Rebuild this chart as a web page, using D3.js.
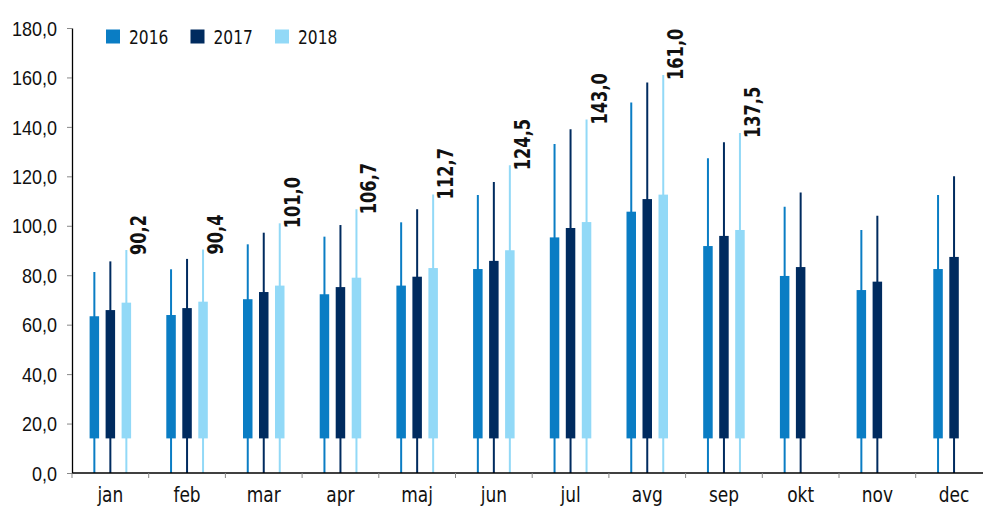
<!DOCTYPE html>
<html>
<head>
<meta charset="utf-8">
<script src="https://cdn.jsdelivr.net/npm/d3@7"></script>
<style>
    body { margin: 0; background: #fff; }
    svg { display: block; font-family: "Liberation Sans Narrow", "DejaVu Sans Condensed", "Arial Narrow", sans-serif; }
    .axis text { font-size: 20px; fill: #111; }
    .val-label { font-size: 22px; font-weight: bold; fill: #111; }
</style>
</head>
<body>
<div id="chart"></div>
<script>
// months and years
const months = ["jan", "feb", "mar", "apr", "maj", "jun", "jul", "avg", "sep", "okt", "nov", "dec"];
const years = ["2016", "2017", "2018"];
const yTicks = [0, 20, 40, 60, 80, 100, 120, 140, 160, 180];

// bottom of the boxes (same for all)
const boxLow = 14;

// top of the thick box per year
const box2016 = [63.4, 63.9, 70.3, 72.3, 75.8, 82.5, 95.3, 105.7, 91.8, 79.7, 74.0, 82.5];
const box2017 = [65.9, 66.7, 73.2, 75.2, 79.4, 85.8, 99.1, 110.8, 95.9, 83.3, 77.4, 87.4];
const box2018 = [68.9, 69.3, 75.8, 79.0, 82.9, 90.1, 101.5, 112.6, 98.3, null, null, null];

// top of the thin line per year
const max2016 = [81.3, 82.4, 92.5, 95.6, 101.4, 112.5, 133.1, 149.9, 127.3, 107.7, 98.3, 112.5];
const max2017 = [85.6, 86.6, 97.2, 100.3, 106.7, 117.7, 139.0, 158.0, 133.8, 113.5, 104.1, 120.0];
const max2018 = [90.2, 90.4, 101.0, 106.7, 112.7, 124.5, 143.0, 161.0, 137.5, null, null, null];

const colors = ["#0a7dc4", "#002b5f", "#92d9f7"];

const width = 983,
    height = 506,
    x0 = 72,
    bandW = 76.7;

// no narrow font installed, so squeeze text a bit sideways
const squeeze = 0.9;

const svg = d3.select("#chart").append("svg")
    .attr("width", width)
    .attr("height", height);

const y = d3.scaleLinear()
    .domain([0, 180])
    .range([473, 28]);

const x = d3.scaleBand()
    .domain(months)
    .range([x0, x0 + bandW * months.length]);

// offset of each year inside a month
const xs = d3.scaleBand()
    .domain(years)
    .range([-24, 24]);

const color = d3.scaleOrdinal().domain(years).range(colors);

// build rows
const boxes = [box2016, box2017, box2018];
const maxes = [max2016, max2017, max2018];
const rows = [];
years.forEach((yr, j) => {
    months.forEach((m, i) => {
        if (boxes[j][i] == null) return;
        rows.push({ month: m, year: yr, box: boxes[j][i], max: maxes[j][i] });
    });
});

const cx = d => x(d.month) + x.bandwidth() / 2 + xs(d.year) + xs.bandwidth() / 2;

// thin lines from 0 to max
svg.append("g").selectAll("line")
    .data(rows)
    .enter().append("line")
    .attr("x1", cx)
    .attr("x2", cx)
    .attr("y1", y(0))
    .attr("y2", d => y(d.max))
    .attr("stroke", d => color(d.year))
    .attr("stroke-width", 2);

// thick boxes
const barW = 9.5;
svg.append("g").selectAll("rect")
    .data(rows)
    .enter().append("rect")
    .attr("x", d => cx(d) - barW / 2)
    .attr("width", barW)
    .attr("y", d => y(d.box))
    .attr("height", d => y(boxLow) - y(d.box))
    .style("fill", d => color(d.year));

// rotated labels on the 2018 lines
svg.append("g").selectAll("text")
    .data(rows.filter(d => d.year === "2018"))
    .enter().append("text")
    .attr("class", "val-label")
    .attr("transform", d => "translate(" + (cx(d) + 20) + "," + (y(d.max) + 5) + ") rotate(-90) scale(0.82,1)")
    .text(d => d.max.toFixed(1).replace(".", ","));

// y axis
const yAxis = svg.append("g")
    .attr("class", "axis")
    .attr("transform", "translate(" + x0 + ",0)")
    .call(d3.axisLeft(y)
        .tickValues(yTicks)
        .tickFormat(d => d.toFixed(1).replace(".", ","))
        .tickSize(5)
        .tickSizeOuter(0)
        .tickPadding(10));
yAxis.select(".domain").attr("stroke", "#000").attr("stroke-width", 1.3);
yAxis.selectAll(".tick line").attr("stroke", "#888");
yAxis.selectAll(".tick text")
    .attr("font-family", null)
    .attr("font-size", null)
    .attr("dy", "0.36em")
    .attr("x", -15 / squeeze)
    .attr("transform", "scale(" + squeeze + ",1)");

// x axis: line, ticks at month borders, labels in the middle
const xAxis = svg.append("g").attr("class", "axis");
xAxis.append("line")
    .attr("x1", x0)
    .attr("x2", width)
    .attr("y1", y(0))
    .attr("y2", y(0))
    .attr("stroke", "#000")
    .attr("stroke-width", 1.3);

xAxis.selectAll(".xtick")
    .data(months)
    .enter().append("line")
    .attr("class", "xtick")
    .attr("x1", d => x(d))
    .attr("x2", d => x(d))
    .attr("y1", y(0))
    .attr("y2", y(0) + 5)
    .attr("stroke", "#888");

xAxis.selectAll(".xlabel")
    .data(months)
    .enter().append("text")
    .attr("class", "xlabel")
    .attr("text-anchor", "middle")
    .attr("transform", d => "translate(" + (x(d) + x.bandwidth() / 2) + ",502) scale(" + squeeze + ",1)")
    .style("font-size", "21px")
    .text(d => d);

// legend
const legend = svg.append("g").selectAll("g")
    .data(years)
    .enter().append("g")
    .attr("transform", (d, i) => "translate(" + (106 + i * 84.5) + ",29.5)");

legend.append("rect")
    .attr("width", 14)
    .attr("height", 14)
    .style("fill", d => color(d));

legend.append("text")
    .attr("transform", "translate(23,14.5) scale(0.86,1)")
    .style("font-size", "20px")
    .style("fill", "#111")
    .text(d => d);
</script>
</body>
</html>
